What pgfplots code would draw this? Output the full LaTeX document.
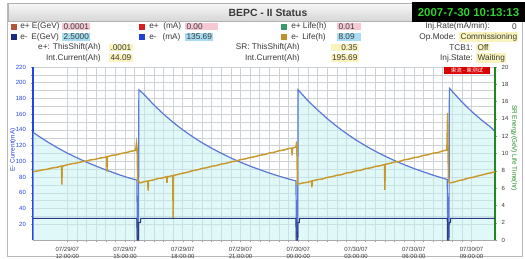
\documentclass[border=0pt]{standalone}
\usepackage{pgfplots}
\pgfplotsset{compat=1.18}
\usepackage{pgfplotstable}
\usepackage{fontspec}
\setmainfont{Liberation Sans}
\newfontfamily\cjk{Noto Sans CJK SC}
\definecolor{gridc}{HTML}{CDD2D6}
\definecolor{fillc}{HTML}{C4F2F2}
\definecolor{curc}{HTML}{5A78D8}
\definecolor{lifec}{HTML}{C89A2C}
\definecolor{enc}{HTML}{2A3C80}
\definecolor{laxis}{HTML}{2244E0}
\definecolor{raxis}{HTML}{1E8A1E}
\definecolor{txt}{HTML}{3A3A3A}
\definecolor{pinkc}{HTML}{F6C8D4}
\definecolor{cyanc}{HTML}{A6DDF2}
\definecolor{yelc}{HTML}{FAF4BC}
\definecolor{sqbrown}{HTML}{B4553A}
\definecolor{sqred}{HTML}{D42020}
\definecolor{sqgreen}{HTML}{3A9A6A}
\definecolor{sqnavy}{HTML}{1A2A80}
\definecolor{sqblue}{HTML}{2040D8}
\definecolor{sqorange}{HTML}{C09030}
\definecolor{dategreen}{HTML}{30D030}
\newcommand\rowf{\fontsize{6.2}{7}\selectfont}
\newcommand\tickf{\fontsize{4.5}{5.1}\selectfont}

\pgfplotstableread{
x y
10.22 137.0
10.5 132.3
11.0 124.4
11.5 117.2
12.0 110.5
12.5 104.6
13.0 99.0
13.5 93.9
14.0 89.2
14.5 84.7
15.0 80.5
15.3 78.2
15.62 76.2
15.64 4
15.70 3
15.72 191
16.0 184.8
16.5 171.7
17.0 160.1
17.5 149.6
18.0 140.1
18.5 131.5
19.0 123.7
19.5 116.7
20.0 110.3
20.5 104.3
21.0 98.9
21.5 93.9
22.0 89.4
22.5 85.1
23.0 81.2
23.5 77.6
23.88 75.1
23.91 3
23.97 3
23.99 191
24.5 177.1
25.0 165.5
25.5 154.4
26.0 144.5
26.5 135.4
27.0 127.2
27.5 119.7
28.0 112.9
28.5 106.7
29.0 101.0
29.5 95.8
30.0 91.0
30.5 86.6
31.0 82.5
31.5 78.7
31.74 76.9
31.77 3
31.83 3
31.85 193
32.0 189.0
32.5 175.6
33.0 163.6
33.5 153.0
34.0 143.3
34.22 138.0
}\curr

\pgfplotstableread{
x y
10.22 7.90
10.45 7.98
10.7 8.10
10.95 8.18
11.2 8.32
11.45 8.40
11.70 8.55
11.72 6.40
11.74 8.52
11.95 8.66
12.2 8.80
12.45 8.88
12.7 9.02
12.95 9.12
13.2 9.25
13.45 9.33
13.7 9.48
13.95 9.55
14.05 9.62
14.07 7.90
14.09 9.64
14.3 9.78
14.55 9.85
14.8 10.00
15.05 10.10
15.3 10.25
15.55 10.38
15.60 11.2
15.63 10.5
15.66 6.9
15.78 6.60
16.0 6.74
16.18 6.82
16.20 5.70
16.22 6.84
16.45 6.93
16.7 7.10
16.95 7.17
17.16 7.32
17.18 6.60
17.20 7.30
17.48 7.45
17.50 2.55
17.52 7.46
17.75 7.58
18.0 7.72
18.25 7.83
18.5 8.01
18.75 8.10
19.0 8.27
19.25 8.36
19.5 8.52
19.75 8.61
20.0 8.78
20.25 8.86
20.5 9.03
20.75 9.12
21.0 9.29
21.25 9.38
21.5 9.54
21.75 9.63
22.0 9.80
22.25 9.88
22.5 10.06
22.75 10.14
23.0 10.32
23.25 10.40
23.5 10.57
23.66 10.62
23.68 9.80
23.70 10.64
23.88 10.75
23.92 11.4
23.96 6.45
24.25 6.60
24.5 6.68
24.69 6.82
24.71 6.10
24.73 6.84
25.0 6.98
25.25 7.05
25.5 7.24
25.75 7.32
26.0 7.48
26.25 7.55
26.5 7.75
26.75 7.82
27.0 8.00
27.25 8.06
27.5 8.26
27.75 8.33
28.0 8.50
28.25 8.58
28.48 8.73
28.50 5.80
28.52 8.75
28.75 8.85
29.0 9.02
29.25 9.08
29.5 9.27
29.75 9.35
30.0 9.52
30.25 9.60
30.5 9.78
30.75 9.86
31.0 10.04
31.25 10.10
31.5 10.30
31.72 10.40
31.76 14.7
31.80 6.9
31.86 6.60
32.1 6.70
32.35 6.88
32.6 6.98
32.85 7.16
33.1 7.26
33.35 7.42
33.6 7.55
33.85 7.70
34.0 7.76
34.22 7.90
}\life

\pgfplotstableread{
x y
10.22 2.5
15.62 2.5
15.63 0
15.70 0
15.71 2.0
15.80 2.0
15.82 2.5
23.88 2.5
23.89 0
23.97 0
23.98 2.0
24.05 2.0
24.07 2.5
31.74 2.5
31.75 0
31.82 0
31.83 2.0
31.90 2.0
31.92 2.5
34.22 2.5
}\energy

\begin{document}
\begin{tikzpicture}
\useasboundingbox (0,0) rectangle (393.75pt,-193.5pt);
\begin{scope}[x=0.75pt,y=-0.75pt]
  \fill[white] (0,0) rectangle (525,258);
  \draw[gray!55, line width=0.5pt] (7,3) rectangle (522,256);
  \shade[top color=gray!6, bottom color=gray!32] (8,3) rectangle (412,21);
  \draw[gray!60, line width=0.4pt] (8,3) rectangle (412,21);
  \node[font=\fontsize{7.8}{8}\selectfont\bfseries, text=txt] at (268,12.5) {BEPC - II Status};
  \fill[black] (412,2) rectangle (525,22);
  \node[font=\fontsize{8.6}{9}\selectfont\bfseries, text=dategreen] at (468.5,12.5) {2007-7-30 10:13:13};
  % row 1
  \fill[sqbrown] (11,23.5) rectangle (17,29.5);
  \node[anchor=west, font=\rowf, text=txt, inner sep=0pt] at (20,26.5) {e+ E(GeV)};
  \node[anchor=west, font=\rowf, text=txt, fill=pinkc, inner xsep=1pt, inner ysep=0.6pt] at (62,26.5) {0.0001};
  \fill[sqred] (139,23.5) rectangle (145,29.5);
  \node[anchor=west, font=\rowf, text=txt, inner sep=0pt] at (149,26.5) {e+ \ (mA)};
  \node[anchor=west, font=\rowf, text=txt, fill=pinkc, inner xsep=1pt, inner ysep=0.6pt] at (185,26.5) {0.00\phantom{000}};
  \fill[sqgreen] (281,23.5) rectangle (287,29.5);
  \node[anchor=west, font=\rowf, text=txt, inner sep=0pt] at (291,26.5) {e+ Life(h)};
  \node[anchor=west, font=\rowf, text=txt, fill=pinkc, inner xsep=1pt, inner ysep=0.6pt] at (337,26.5) {0.01\phantom{0}};
  \node[anchor=east, font=\rowf, text=txt, inner sep=0pt] at (490,26.5) {Inj.Rate(mA/min):};
  \node[anchor=east, font=\rowf, text=txt, inner sep=0pt] at (517,26.5) {0};
  % row 2
  \fill[sqnavy] (11,34) rectangle (17,40);
  \node[anchor=west, font=\rowf, text=txt, inner sep=0pt] at (20,37) {e- \,E(GeV)};
  \node[anchor=west, font=\rowf, text=txt, fill=cyanc, inner xsep=1pt, inner ysep=0.6pt] at (62,37) {2.5000};
  \fill[sqblue] (139,34) rectangle (145,40);
  \node[anchor=west, font=\rowf, text=txt, inner sep=0pt] at (149,37) {e- \ \,(mA)};
  \node[anchor=west, font=\rowf, text=txt, fill=cyanc, inner xsep=1pt, inner ysep=0.6pt] at (185,37) {135.69};
  \fill[sqorange] (281,34) rectangle (287,40);
  \node[anchor=west, font=\rowf, text=txt, inner sep=0pt] at (291,37) {e- \,Life(h)};
  \node[anchor=west, font=\rowf, text=txt, fill=cyanc, inner xsep=1pt, inner ysep=0.6pt] at (337,37) {8.09\phantom{0}};
  \node[anchor=east, font=\rowf, text=txt, inner sep=0pt] at (456,37) {Op.Mode:};
  \node[anchor=west, font=\rowf, text=txt, fill=yelc, inner xsep=1pt, inner ysep=0.6pt] at (459,37) {Commissioning};
  % row 3
  \node[anchor=east, font=\rowf, text=txt, inner sep=0pt] at (101,47.5) {e+: ThisShift(Ah)};
  \node[anchor=west, font=\rowf, text=txt, fill=yelc, inner xsep=1pt, inner ysep=0.6pt] at (109,47.5) {.0001};
  \node[anchor=east, font=\rowf, text=txt, inner sep=0pt] at (300,47.5) {SR: ThisShift(Ah)};
  \node[anchor=east, font=\rowf, text=txt, fill=yelc, inner xsep=1pt, inner ysep=0.6pt] at (359,47.5) {\phantom{19}0.35};
  \node[anchor=east, font=\rowf, text=txt, inner sep=0pt] at (473,47.5) {TCB1:};
  \node[anchor=west, font=\rowf, text=txt, fill=yelc, inner xsep=1pt, inner ysep=0.6pt] at (476,47.5) {Off};
  % row 4
  \node[anchor=east, font=\rowf, text=txt, inner sep=0pt] at (101,58) {Int.Current(Ah)};
  \node[anchor=west, font=\rowf, text=txt, fill=yelc, inner xsep=1pt, inner ysep=0.6pt] at (109,58) {44.09};
  \node[anchor=east, font=\rowf, text=txt, inner sep=0pt] at (300,58) {Int.Current(Ah)};
  \node[anchor=east, font=\rowf, text=txt, fill=yelc, inner xsep=1pt, inner ysep=0.6pt] at (359,58) {195.69};
  \node[anchor=east, font=\rowf, text=txt, inner sep=0pt] at (473,58) {Inj.State:};
  \node[anchor=west, font=\rowf, text=txt, fill=yelc, inner xsep=1pt, inner ysep=0.6pt] at (476,58) {Waiting};
\end{scope}

\begin{axis}[
  at={(24.75pt,-50.25pt)}, anchor=north west,
  scale only axis, width=346.5pt, height=129.75pt,
  xmin=10.22, xmax=34.22, ymin=0, ymax=220,
  xtick={12,15,18,21,24,27,30,33},
  xticklabels={{07/29/07\\12:00:00},{07/29/07\\15:00:00},{07/29/07\\18:00:00},{07/29/07\\21:00:00},{07/30/07\\00:00:00},{07/30/07\\03:00:00},{07/30/07\\06:00:00},{07/30/07\\09:00:00}},
  xticklabel style={align=center, font=\tickf, text=txt},
  minor x tick num=5,
  ytick={20,40,...,220},
  minor y tick num=1,
  yticklabel style={font=\tickf, text=laxis},
  /pgf/number format/assume math mode=true,
  grid=both, major grid style={gridc, line width=0.4pt}, minor grid style={gridc, line width=0.4pt},
  axis y line*=left, axis x line*=bottom,
  y axis line style={laxis, line width=1.6pt},
  x axis line style={gray!70, line width=0.5pt},
  tick align=outside,
  major tick length=1.8pt, minor tick length=1.2pt,
  every tick/.style={gray!80, line width=0.3pt},
  clip=true,
]
\addplot[draw=none, fill=fillc, fill opacity=0.5] table {\curr} \closedcycle;
\addplot[curc, line width=0.9pt] table {\curr};
\end{axis}

\begin{axis}[
  at={(24.75pt,-50.25pt)}, anchor=north west,
  scale only axis, width=346.5pt, height=129.75pt,
  xmin=10.22, xmax=34.22, ymin=0, ymax=20,
  axis x line=none, axis y line*=right,
  ytick={0,2,...,20},
  yticklabel style={font=\tickf, text=txt},
  /pgf/number format/assume math mode=true,
  y axis line style={raxis, line width=1.2pt},
  tick align=outside, major tick length=1.5pt,
  every tick/.style={gray!80, line width=0.3pt},
]
\addplot[lifec, line width=1.1pt] table {\life};
\addplot[enc, line width=0.8pt] table {\energy};
\end{axis}

\begin{scope}[x=0.75pt,y=-0.75pt]
  \node[rotate=90, font=\fontsize{4.8}{5}\selectfont, text=laxis] at (13,150) {E- Current(mA)};
  \node[rotate=-90, font=\fontsize{4.8}{5}\selectfont, text=raxis] at (514,148) {SR Energy(GeV) Life Time(hr)};
  \fill[red!85!black] (444,66.5) rectangle (490,74);
  \node[font=\cjk\fontsize{4.2}{4.5}\selectfont, text=white, inner sep=0pt] at (467,70.3) {束流 - 束测试};
\end{scope}
\end{tikzpicture}
\end{document}
